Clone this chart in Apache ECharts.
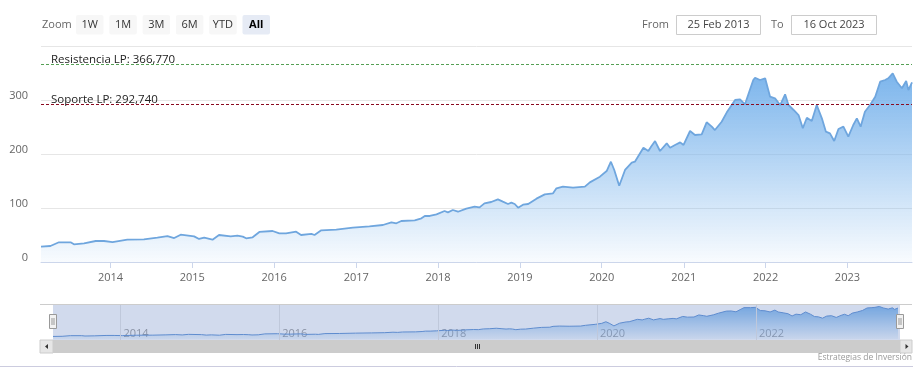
<!DOCTYPE html>
<html><head><meta charset="utf-8">
<script src="https://cdn.jsdelivr.net/npm/echarts@6/dist/echarts.min.js"></script>
<style>html,body{margin:0;padding:0;background:#fff}#c{width:923px;height:382px}</style>
</head><body><div id="c"></div>
<script>
// ---------- data ----------
const dates = [
'2013-02-25','2013-04-08','2013-05-16','2013-07-07','2013-07-22','2013-09-05','2013-10-27','2013-12-03',
'2014-01-10','2014-03-17','2014-05-30','2014-07-29','2014-09-12','2014-10-12','2014-11-10',
'2015-01-09','2015-01-31','2015-02-23','2015-04-01','2015-04-30','2015-06-21','2015-07-21','2015-08-14','2015-08-29','2015-09-27','2015-10-27','2015-12-25',
'2016-01-24','2016-02-23','2016-04-08','2016-04-30','2016-06-15','2016-06-29','2016-07-29','2016-10-04','2016-12-17',
'2017-03-01','2017-04-30','2017-06-07','2017-06-29','2017-07-21','2017-09-19','2017-10-19','2017-11-03','2017-11-25','2017-12-25',
'2018-01-30','2018-02-14','2018-03-08','2018-03-31','2018-05-07','2018-06-13','2018-07-05','2018-07-27','2018-08-26','2018-09-25','2018-10-17','2018-11-09','2018-11-24','2018-12-09','2018-12-24',
'2019-01-15','2019-02-07','2019-03-16','2019-04-22','2019-05-29','2019-06-13','2019-07-12','2019-08-26','2019-10-18','2019-11-09','2019-12-24',
'2020-01-23','2020-02-11','2020-02-26','2020-03-19','2020-04-14','2020-05-14','2020-05-28','2020-07-05','2020-07-27','2020-08-08','2020-08-26','2020-09-17','2020-10-17','2020-11-01','2020-11-23','2020-12-16','2020-12-31',
'2021-01-29','2021-02-20','2021-03-22','2021-04-13','2021-05-06','2021-05-20','2021-06-19','2021-07-12','2021-08-18','2021-09-09','2021-10-01','2021-10-20','2021-11-07','2021-11-15','2021-12-07','2021-12-30',
'2022-01-21','2022-02-12','2022-03-07','2022-03-29','2022-04-13','2022-05-06','2022-05-28','2022-06-16','2022-07-04','2022-07-26','2022-08-17','2022-09-09','2022-09-27','2022-10-15','2022-11-03','2022-11-22','2022-12-14',
'2023-01-05','2023-01-27','2023-02-12','2023-03-01','2023-03-20','2023-04-12','2023-05-05','2023-05-27','2023-06-18','2023-07-02','2023-07-22','2023-08-09','2023-09-01','2023-09-20','2023-09-30','2023-10-16'
];
const prices = [
28.3,29.6,36.5,36.5,32.8,34.6,38.9,38.9,
37.0,41.3,42.0,45.0,48.0,44.4,50.6,
47.5,42.6,45.0,41.3,50.0,47.5,48.7,46.9,43.9,45.7,55.6,57.4,
53.1,53.1,56.1,50.0,51.9,50.0,58.6,59.9,63.6,
66.1,68.5,73.5,71.7,75.9,77.2,80.9,85.2,85.2,88.3,
94.4,92.0,96.3,93.1,98.8,102.4,101.2,108.6,111.1,116.0,111.7,107.4,109.9,107.4,100.6,
106.2,107.4,117.3,125.3,127.2,136.4,139.5,137.7,139.5,147.5,158.0,
168.5,185.7,170.4,141.3,170.4,183.9,185.7,211.7,205.6,213.5,224.0,205.6,219.8,211.7,216.7,221.6,216.7,
242.6,235.2,236.5,258.7,250.6,244.4,259.8,277.2,300.0,301.3,292.0,315.4,337.0,341.3,337.0,340.2,
306.1,303.1,290.7,310.5,290.7,281.5,272.2,247.6,267.2,261.1,290.7,266.1,241.3,238.3,224.1,246.3,250.6,
232.0,253.7,266.1,250.6,278.3,290.7,306.1,333.9,337.0,340.2,349.4,333.9,321.7,335.2,318.5,332.8
];
const startDate = '2013-02-25';
const endDate = '2023-10-16';
const yearTicks = ['2014-01-01','2015-01-01','2016-01-01','2017-01-01','2018-01-01','2019-01-01','2020-01-01','2021-01-01','2022-01-01','2023-01-01'];
const navTicks = ['2014-01-01','2016-01-01','2018-01-01','2020-01-01','2022-01-01'];
const yMin = 0, yMax = 400, yStep = 100;
const resistance = 366.77, support = 292.74;
const resistanceLabel = 'Resistencia LP: 366,770';
const supportLabel = 'Soporte LP: 292,740';
const zoomButtons = ['1W','1M','3M','6M','YTD','All'];
const selectedButton = 'All';
const fromText = '25 Feb 2013', toText = '16 Oct 2023';
const creditText = 'Estrategias de Inversión';

// ---------- layout ----------
const FONT = 'Open Sans';
const MAIN = {left: 41, top: 46, width: 871, height: 216};
const NAV = {left: 53, top: 304, width: 845, height: 36};
const ts = s => Date.parse(s + 'T00:00:00Z');
const yearFmt = v => String(new Date(v).getUTCFullYear());
const seriesData = dates.map((d, i) => [ts(d), prices[i]]);

const areaGrad = new echarts.graphic.LinearGradient(0, 0, 0, 1, [
  {offset: 0, color: 'rgba(124,181,236,1)'},
  {offset: 1, color: 'rgba(124,181,236,0.05)'}
]);
const navGrad = new echarts.graphic.LinearGradient(0, 0, 0, 1, [
  {offset: 0, color: 'rgba(124,181,236,1)'},
  {offset: 1, color: 'rgba(124,181,236,0.1)'}
]);

// ---------- UI chrome ----------
const g = [];
g.push({type: 'text', x: 42, y: 24.5, style: {text: 'Zoom', font: '11px "Open Sans"', fill: '#666', verticalAlign: 'middle'}});
zoomButtons.forEach((b, i) => {
  const x = 76 + i * 33.3, sel = b === selectedButton;
  g.push({type: 'rect', shape: {x: x, y: 15, width: 27.5, height: 19.5, r: 2}, style: {fill: sel ? '#e6ebf5' : '#f7f7f7'}});
  g.push({type: 'text', x: x + 13.75, y: 25, style: {text: b, font: (sel ? 'bold ' : '') + '11px "Open Sans"', fill: sel ? '#000' : '#333', align: 'center', verticalAlign: 'middle'}});
});
g.push({type: 'text', x: 642, y: 24.5, style: {text: 'From', font: '11px "Open Sans"', fill: '#666', verticalAlign: 'middle'}});
g.push({type: 'rect', shape: {x: 676.5, y: 15.5, width: 84, height: 19}, style: {fill: '#fff', stroke: '#cccccc', lineWidth: 1}});
g.push({type: 'text', x: 718.5, y: 24.5, style: {text: fromText, font: '11px "Open Sans"', fill: '#444', align: 'center', verticalAlign: 'middle'}});
g.push({type: 'text', x: 771, y: 24.5, style: {text: 'To', font: '11px "Open Sans"', fill: '#666', verticalAlign: 'middle'}});
g.push({type: 'rect', shape: {x: 791.5, y: 15.5, width: 85, height: 19}, style: {fill: '#fff', stroke: '#cccccc', lineWidth: 1}});
g.push({type: 'text', x: 834, y: 24.5, style: {text: toText, font: '11px "Open Sans"', fill: '#444', align: 'center', verticalAlign: 'middle'}});

// navigator mask & outline
const navR = NAV.left + NAV.width;
g.push({type: 'rect', z: 10, shape: {x: NAV.left, y: NAV.top, width: navR + 2 - NAV.left, height: NAV.height}, style: {fill: 'rgba(102,133,194,0.3)'}});
g.push({type: 'line', z: 11, shape: {x1: 40, y1: NAV.top + 0.5, x2: 912, y2: NAV.top + 0.5}, style: {stroke: '#cccccc', lineWidth: 1}});
// scrollbar
const sbY = NAV.top + NAV.height, sbH = 13;
g.push({type: 'rect', z: 10, shape: {x: 40, y: sbY, width: 872, height: sbH}, style: {fill: '#f2f2f2'}});
g.push({type: 'rect', z: 11, shape: {x: NAV.left, y: sbY, width: navR + 2 - NAV.left, height: sbH}, style: {fill: '#cccccc'}});
g.push({type: 'rect', z: 11, shape: {x: 40, y: sbY, width: 13, height: sbH}, style: {fill: '#e6e6e6', stroke: '#cccccc', lineWidth: 1}});
g.push({type: 'rect', z: 11, shape: {x: navR + 2, y: sbY, width: 12, height: sbH}, style: {fill: '#e6e6e6', stroke: '#cccccc', lineWidth: 1}});
g.push({type: 'polygon', z: 12, shape: {points: [[48, sbY + 4], [48, sbY + 9], [45, sbY + 6.5]]}, style: {fill: '#333'}});
g.push({type: 'polygon', z: 12, shape: {points: [[905.5, sbY + 4], [905.5, sbY + 9], [908.5, sbY + 6.5]]}, style: {fill: '#333'}});
const rc = Math.round((NAV.left + navR + 2) / 2);
[-2, 0, 2].forEach(d => g.push({type: 'line', z: 12, shape: {x1: rc + d + 0.5, y1: sbY + 4, x2: rc + d + 0.5, y2: sbY + 9}, style: {stroke: '#333', lineWidth: 1}}));
// handles
[NAV.left, navR + 2].forEach(cx => {
  g.push({type: 'rect', z: 13, shape: {x: cx - 3.5, y: 314.5, width: 7, height: 14}, style: {fill: '#f2f2f2', stroke: '#999999', lineWidth: 1}});
  [-1, 1].forEach(d => g.push({type: 'line', z: 14, shape: {x1: cx + d, y1: 318, x2: cx + d, y2: 325}, style: {stroke: '#999999', lineWidth: 1}}));
});
// credits and bottom line
g.push({type: 'text', x: 912, y: 358, style: {text: creditText, font: '8.5px "Open Sans"', fill: '#999', align: 'right', verticalAlign: 'middle'}});
g.push({type: 'line', shape: {x1: 0, y1: 366.5, x2: 913, y2: 366.5}, style: {stroke: '#ccccdf', lineWidth: 1}});

// ---------- chart ----------
const chart = echarts.init(document.getElementById('c'), null, {renderer: 'canvas'});
chart.setOption({
  animation: false,
  textStyle: {fontFamily: FONT},
  grid: [
    {left: MAIN.left, top: MAIN.top, width: MAIN.width, height: MAIN.height, containLabel: false},
    {left: NAV.left, top: NAV.top, width: NAV.width, height: NAV.height, containLabel: false}
  ],
  xAxis: [
    {type: 'value', gridIndex: 0, min: ts(startDate), max: ts(endDate), scale: true,
     axisLine: {lineStyle: {color: '#ccd6eb'}},
     axisTick: {show: true, length: 6, lineStyle: {color: '#ccd6eb'}, customValues: yearTicks.map(ts)},
     axisLabel: {customValues: yearTicks.map(ts), formatter: yearFmt, color: '#666', fontSize: 11, margin: 10},
     splitLine: {show: false}},
    {type: 'value', gridIndex: 1, min: ts(startDate), max: ts(endDate), scale: true,
     axisLine: {show: false}, axisTick: {show: false},
     axisLabel: {customValues: navTicks.map(ts), formatter: yearFmt, inside: true, align: 'left', padding: [0, 0, 0, 3], margin: 1, color: '#999', fontSize: 11},
     splitLine: {show: false}}
  ],
  yAxis: [
    {type: 'value', gridIndex: 0, min: yMin, max: yMax, interval: yStep,
     axisLine: {show: false}, axisTick: {show: false},
     axisLabel: {color: '#666', fontSize: 11, margin: 13, verticalAlign: 'bottom', lineHeight: 8, showMaxLabel: false},
     splitLine: {lineStyle: {color: '#e6e6e6'}}},
    {type: 'value', gridIndex: 1, min: -10, max: 376, show: false, splitLine: {show: false}}
  ],
  series: [
    {type: 'line', xAxisIndex: 0, yAxisIndex: 0, data: seriesData, showSymbol: false, symbol: 'none',
     lineStyle: {color: '#6fa6de', width: 1.8}, areaStyle: {color: areaGrad, opacity: 1},
     markLine: {silent: true, symbol: 'none', animation: false,
       data: [
         {yAxis: resistance, lineStyle: {color: '#55a055', type: [3, 2], width: 1},
          label: {formatter: resistanceLabel}},
         {yAxis: support, lineStyle: {color: '#8b0a20', type: [3, 2], width: 1},
          label: {formatter: supportLabel}}
       ],
       label: {position: 'insideStartTop', distance: [10, -2], color: '#222', fontSize: 11.5, fontFamily: FONT}}},
    {type: 'line', xAxisIndex: 1, yAxisIndex: 1, data: seriesData, showSymbol: false, symbol: 'none',
     lineStyle: {color: '#5b8fd3', width: 1}, areaStyle: {color: navGrad, opacity: 1},
     markLine: {silent: true, symbol: 'none', label: {show: false}, animation: false,
       lineStyle: {color: '#e6e6e6', type: 'solid', width: 1},
       data: navTicks.map(d => ({xAxis: ts(d)}))}}
  ],
  graphic: g
});
</script></body></html>
